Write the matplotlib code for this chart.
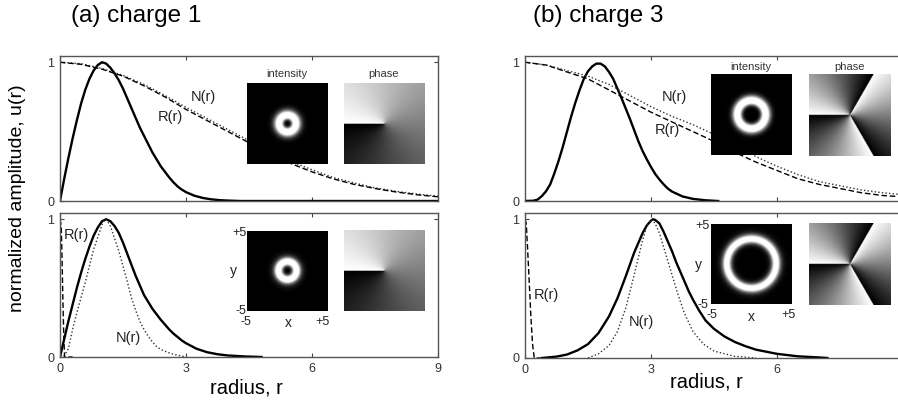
import numpy as np
import matplotlib
matplotlib.use('Agg')
import matplotlib.pyplot as plt

plt.rcParams['font.family'] = ['Liberation Sans', 'DejaVu Sans']

# (a) charge 1, upper panel: solid profile u(r)
a1_r = [0, 0.1, 0.2, 0.3, 0.4, 0.5, 0.6, 0.7, 0.8, 0.9, 1.0, 1.1, 1.2, 1.3, 1.4, 1.5,
        1.6, 1.7, 1.8, 1.9, 2.0, 2.1, 2.2, 2.3, 2.4, 2.5, 2.6, 2.7, 2.8, 2.9, 3.0,
        3.2, 3.4, 3.6, 3.8, 4.0, 4.3, 9.0]
a1_u = [0, 0.16, 0.31, 0.45, 0.58, 0.70, 0.80, 0.88, 0.94, 0.98, 1.0, 0.99, 0.96, 0.92,
        0.87, 0.81, 0.74, 0.67, 0.60, 0.53, 0.47, 0.41, 0.35, 0.30, 0.25, 0.21, 0.17,
        0.135, 0.105, 0.082, 0.064, 0.038, 0.022, 0.012, 0.006, 0.003, 0, 0]
# broad curves N(r), R(r) on a common radius grid
wide_r = [0, 0.5, 1.0, 1.5, 2.0, 2.5, 3.0, 3.5, 4.0, 4.5, 5.0, 5.5, 6.0, 6.5, 7.0,
          7.5, 8.0, 8.5, 9.0]
a1_N = [1.0, 0.99, 0.955, 0.905, 0.84, 0.76, 0.675, 0.595, 0.515, 0.435, 0.355, 0.285,
        0.225, 0.17, 0.13, 0.095, 0.07, 0.05, 0.035]
a1_R = [1.0, 0.985, 0.95, 0.90, 0.83, 0.75, 0.66, 0.58, 0.50, 0.42, 0.34, 0.27,
        0.21, 0.16, 0.12, 0.09, 0.065, 0.045, 0.03]

# (a) charge 1, lower panel
a2_r = [0, 0.1, 0.2, 0.3, 0.4, 0.5, 0.6, 0.7, 0.8, 0.9, 1.0, 1.1, 1.2, 1.3, 1.4, 1.5,
        1.6, 1.7, 1.8, 1.9, 2.0, 2.1, 2.2, 2.3, 2.4, 2.5, 2.6, 2.7, 2.8, 2.9, 3.0,
        3.25, 3.5, 3.75, 4.0, 4.4, 4.8]
a2_u = [0, 0.13, 0.26, 0.38, 0.50, 0.61, 0.71, 0.80, 0.88, 0.94, 0.985, 1.0, 0.985,
        0.95, 0.90, 0.83, 0.75, 0.67, 0.59, 0.52, 0.45, 0.40, 0.35, 0.31, 0.27, 0.235,
        0.20, 0.17, 0.145, 0.12, 0.10, 0.06, 0.035, 0.02, 0.011, 0.004, 0]
a2_Nr = [0, 0.1, 0.2, 0.3, 0.4, 0.5, 0.6, 0.7, 0.8, 0.9, 1.0, 1.05, 1.1, 1.2, 1.3, 1.4,
         1.5, 1.6, 1.7, 1.8, 1.9, 2.0, 2.1, 2.2, 2.3, 2.4, 2.55, 2.7, 3.0]
a2_N = [0, 0.01, 0.06, 0.2, 0.32, 0.43, 0.54, 0.66, 0.78, 0.87, 0.96, 0.99, 1.0, 0.95,
        0.86, 0.77, 0.66, 0.55, 0.43, 0.34, 0.26, 0.2, 0.15, 0.11, 0.075, 0.055, 0.035,
        0.02, 0]
a2_Rr = [0, 0.03, 0.05, 0.07, 0.09, 0.11, 0.3]
a2_R = [1.0, 0.95, 0.7, 0.4, 0.15, 0, 0]

# (b) charge 3, upper panel
b1_r = [0, 0.2, 0.3, 0.4, 0.5, 0.6, 0.7, 0.8, 0.9, 1.0, 1.1, 1.2, 1.3, 1.4, 1.5, 1.6,
        1.7, 1.8, 1.9, 2.0, 2.1, 2.2, 2.3, 2.4, 2.5, 2.6, 2.7, 2.8, 2.9, 3.0, 3.1,
        3.2, 3.3, 3.4, 3.5, 3.75, 4.0, 4.3, 4.6]
b1_u = [0, 0.002, 0.01, 0.035, 0.07, 0.12, 0.2, 0.29, 0.39, 0.50, 0.61, 0.71, 0.80,
        0.88, 0.935, 0.97, 0.99, 0.99, 0.97, 0.93, 0.88, 0.81, 0.74, 0.665, 0.59,
        0.51, 0.43, 0.36, 0.30, 0.245, 0.195, 0.155, 0.12, 0.09, 0.068, 0.033, 0.015,
        0.005, 0]
b1_N = [1.0, 0.98, 0.94, 0.90, 0.84, 0.76, 0.68, 0.61, 0.55, 0.48, 0.40, 0.32,
        0.25, 0.19, 0.14, 0.11, 0.08, 0.06, 0.045]
b1_R = [1.0, 0.98, 0.93, 0.88, 0.80, 0.72, 0.64, 0.57, 0.50, 0.43, 0.35, 0.28,
        0.22, 0.16, 0.12, 0.09, 0.06, 0.04, 0.03]

# (b) charge 3, lower panel
b2_r = [0.4, 0.75, 1.0, 1.25, 1.5, 1.75, 2.0, 2.2, 2.4, 2.6, 2.8, 2.9, 3.0, 3.05, 3.1,
        3.2, 3.3, 3.4, 3.5, 3.6, 3.7, 3.8, 3.9, 4.0, 4.15, 4.3, 4.5, 4.75, 5.0, 5.25,
        5.5, 6.0, 6.5, 7.0, 7.2]
b2_u = [0, 0.01, 0.025, 0.055, 0.10, 0.18, 0.30, 0.43, 0.59, 0.76, 0.90, 0.955, 0.99,
        1.0, 0.995, 0.97, 0.91, 0.84, 0.77, 0.69, 0.62, 0.55, 0.48, 0.42, 0.34, 0.27,
        0.21, 0.155, 0.115, 0.085, 0.06, 0.03, 0.012, 0.004, 0]
b2_Nr = [1.5, 1.75, 2.0, 2.2, 2.4, 2.6, 2.8, 2.9, 3.0, 3.1, 3.2, 3.35, 3.5, 3.65, 3.8,
         4.0, 4.25, 4.5, 5.0, 5.5]
b2_N = [0, 0.03, 0.09, 0.19, 0.36, 0.6, 0.85, 0.95, 1.0, 0.97, 0.9, 0.75, 0.6, 0.45,
        0.32, 0.19, 0.1, 0.05, 0.012, 0]
b2_Rr = [0, 0.03, 0.06, 0.1, 0.14, 0.18, 0.22, 0.4]
b2_R = [1.0, 0.97, 0.8, 0.55, 0.3, 0.1, 0, 0]

x_ticks = [0, 3, 6, 9]
x_labels_a = ['0', '3', '6', '9']
x_labels_b = ['0', '3', '6', '']   # the 9 falls off the right edge
y_ticks = [0, 1]

W, H = 898, 404
fig = plt.figure(figsize=(W / 100, H / 100), dpi=100)


def fbox(x0, y0, x1, y1):
    # pixel box -> figure fraction
    return [x0 / W, 1 - y1 / H, (x1 - x0) / W, (y1 - y0) / H]


def ftext(x, y, s, **kw):
    fig.text(x / W, 1 - y / H, s, ha='center', va='center', **kw)


def setup(ax, xlabels):
    ax.set_xlim(0, 9)
    ax.set_ylim(0, 1.045)
    ax.set_xticks(x_ticks)
    ax.set_yticks(y_ticks)
    ax.tick_params(direction='in', length=3, width=0.8, top=True, right=True,
                   labelsize=9, labelcolor='#333', colors='#444', pad=4)
    if xlabels is None:
        ax.tick_params(labelbottom=False)
    else:
        ax.set_xticklabels(xlabels)
    for s in ax.spines.values():
        s.set_color('#555')
        s.set_linewidth(1.0)


def curves(ax, r, u, nr, n, rr, rv):
    ax.plot(r, u, color='black', lw=1.7)
    ax.plot(nr, n, color='#333', lw=1.0, linestyle=(0, (1, 1.6)))
    ax.plot(rr, rv, color='black', lw=1.0, linestyle=(0, (4, 2)))


ax_a1 = fig.add_axes(fbox(60, 56, 438, 201))
ax_a2 = fig.add_axes(fbox(60, 213, 438, 357))
ax_b1 = fig.add_axes(fbox(525, 56, 903, 201))
ax_b2 = fig.add_axes(fbox(525, 213, 903, 358))

curves(ax_a1, a1_r, a1_u, wide_r, a1_N, wide_r, a1_R)
curves(ax_a2, a2_r, a2_u, a2_Nr, a2_N, a2_Rr, a2_R)
curves(ax_b1, b1_r, b1_u, wide_r, b1_N, wide_r, b1_R)
curves(ax_b2, b2_r, b2_u, b2_Nr, b2_N, b2_Rr, b2_R)
setup(ax_a1, None)
setup(ax_a2, x_labels_a)
setup(ax_b1, None)
setup(ax_b2, x_labels_b)

# curve labels
lab_kw = dict(fontsize=10.5, color='#222')
ftext(203, 97, 'N(r)', **lab_kw)
ftext(170, 117, 'R(r)', **lab_kw)
ftext(76, 235, 'R(r)', **lab_kw)
ftext(128, 338, 'N(r)', **lab_kw)
ftext(674, 97, 'N(r)', **lab_kw)
ftext(667, 130, 'R(r)', **lab_kw)
ftext(546, 295, 'R(r)', **lab_kw)
ftext(641, 322, 'N(r)', **lab_kw)

# titles and axis labels
ftext(136, 16, '(a) charge 1', fontsize=17.5)
ftext(598, 16, '(b) charge 3', fontsize=17.5)
ftext(18, 198, 'normalized amplitude, u(r)', fontsize=14, rotation=90)
ftext(246, 388, 'radius, r', fontsize=14.5)
ftext(706, 382, 'radius, r', fontsize=14.5)

# inset images: intensity from the plotted profile, phase from the charge
grid = np.linspace(-5, 5, 201)
X, Y = np.meshgrid(grid, grid)
rad = np.hypot(X, Y)
theta = np.arctan2(Y, X)


def inset(box, img, vmax):
    a = fig.add_axes(fbox(*box))
    a.imshow(img, cmap='gray', origin='lower', extent=[-5, 5, -5, 5],
             vmin=0, vmax=vmax, interpolation='bilinear')
    a.set_axis_off()


phase1 = (theta + np.pi) / (2 * np.pi)
phase3 = np.mod(3 * theta + 3 * np.pi, 2 * np.pi) / (2 * np.pi)

inset((246.7, 82.7, 327.3, 164), np.interp(rad, a1_r, a1_u) ** 3, 0.7)
inset((344, 82.7, 425, 164), phase1, 1)
inset((246.7, 230, 327.3, 311.7), np.interp(rad, a2_r, a2_u) ** 3, 0.7)
inset((344, 230, 425, 311.7), phase1, 1)
inset((711, 74, 792, 155.7), np.interp(rad, b1_r, b1_u) ** 3, 0.7)
inset((809, 74, 890.7, 155.7), phase3, 1)
inset((711, 223, 792, 305), np.interp(rad, b2_r, b2_u) ** 3, 0.7)
inset((809, 223, 890.7, 305), phase3, 1)

small = dict(fontsize=8, color='#333')
ftext(287, 74, 'intensity', **small)
ftext(384, 74, 'phase', **small)
ftext(751, 66.5, 'intensity', **small)
ftext(850, 66.5, 'phase', **small)

for (px, py, s) in [(239, 233, '+5'), (233, 271, 'y'), (241, 311, '-5'),
                    (246, 322, '-5'), (288, 323, 'x'), (322, 322, '+5'),
                    (702, 226, '+5'), (698, 265, 'y'), (703, 305, '-5'),
                    (712, 315, '-5'), (751, 317, 'x'), (788, 315, '+5')]:
    ftext(px, py, s, fontsize=10 if s in ('x', 'y') else 9, color='#222')

fig.savefig('out.png', dpi=100)
